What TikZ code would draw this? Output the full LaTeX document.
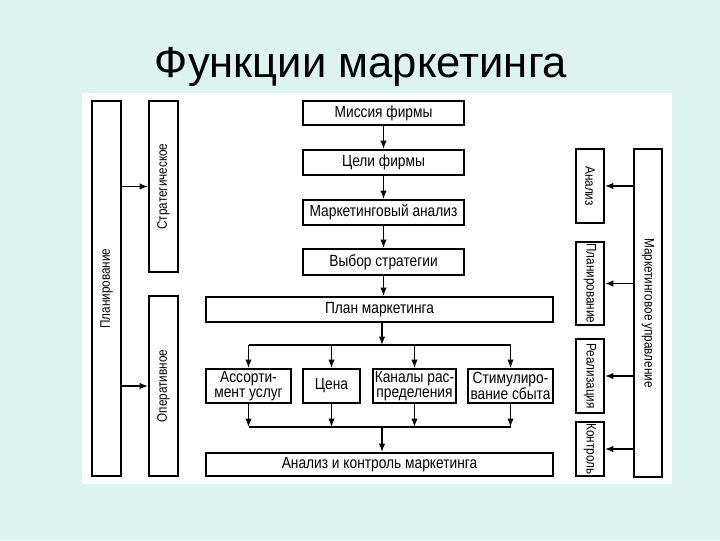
\documentclass[tikz,border=0pt]{standalone}
\usepackage{fontspec}
\usepackage{graphicx}
\setmainfont{Liberation Sans}
\newfontfamily\narrowfont[FakeStretch=0.85]{Liberation Sans}
\usetikzlibrary{arrows.meta}
\definecolor{slidebg}{HTML}{DDF3F0}

\begin{document}
\begin{tikzpicture}[x=0.025cm, y=-0.025cm,
    box/.style={draw, line width=1.3pt, fill=white, inner sep=1pt, align=center,
        font=\narrowfont\fontsize{11.5}{10.5}\selectfont},
    sidebox/.style={box, font=\narrowfont\fontsize{9.8}{10}\selectfont},
    arr/.style={-{Latex[length=6pt,width=4.5pt]}, line width=0.9pt},
    link/.style={line width=0.9pt}]
    % --- Hintergrund ---
    \fill[slidebg] (0,0) rectangle (720,540);
    \useasboundingbox (0,0) rectangle (720,540);
    \fill[white] (82,93) rectangle (672,484);
    \node[anchor=base, font=\fontsize{31}{31}\selectfont] (title) at (361,77) {Функции маркетинга};

    % --- Planung (links) ---
    \node[sidebox, minimum width=0.725cm, minimum height=9.375cm] (plan) at (106.5,288.5) {\rotatebox{90}{Планирование}};
    \node[sidebox, minimum width=0.725cm, minimum height=4.275cm] (strat) at (163.5,186.5) {\rotatebox{90}{Стратегическое}};
    \node[sidebox, minimum width=0.725cm, minimum height=4.5cm] (oper) at (163.5,386) {\rotatebox{90}{Оперативное}};
    \draw[arr] (plan.east |- strat) -- (strat.west);
    \draw[arr] (plan.east |- oper) -- (oper.west);

    % --- Hauptkette (Mitte) ---
    \node[box, minimum width=4.025cm, minimum height=0.6cm] (mission) at (383.5,113) {Миссия фирмы};
    \node[box, minimum width=4.025cm, minimum height=0.625cm] (goals) at (383.5,162.5) {Цели фирмы};
    \node[box, minimum width=4.025cm, minimum height=0.625cm] (analysis) at (383.5,212.5) {Маркетинговый анализ};
    \node[box, minimum width=4.025cm, minimum height=0.65cm] (choice) at (383.5,262) {Выбор стратегии};
    \node[box, minimum width=8.675cm, minimum height=0.625cm] (planm) at (379.5,309.5) {План маркетинга};
    \draw[arr] (mission) -- (goals);
    \draw[arr] (goals) -- (analysis);
    \draw[arr] (analysis) -- (choice);
    \draw[arr] (choice.south) -- (choice.south |- planm.north);

    % --- Marketing-Mix ---
    \node[box, minimum width=2.125cm, minimum height=0.85cm] (assort) at (248.5,386) {Ассорти-\\мент услуг};
    \node[box, minimum width=1.425cm, minimum height=0.85cm] (price) at (331.5,386) {Цена};
    \node[box, minimum width=2.075cm, minimum height=0.85cm] (channels) at (414.5,386) {Каналы рас-\\пределения};
    \node[box, minimum width=2.125cm, minimum height=0.85cm] (promo) at (510.5,386) {Стимулиро-\\вание сбыта};
    \node[box, minimum width=8.675cm, minimum height=0.575cm] (ctrl) at (379.5,464.5) {Анализ и контроль маркетинга};
    \coordinate (split) at (382,345);
    \coordinate (join) at (382,427);
    \draw[arr] (split |- planm.south) -- (split);
    \draw[link] (assort.north |- split) -- (promo.north |- split);
    \draw[link] (assort.south |- join) -- (promo.south |- join);
    \foreach \n in {assort,price,channels,promo} {
        \draw[arr] (\n.north |- split) -- (\n.north);
        \draw[arr] (\n.south) -- (\n.south |- join);
    }
    \draw[arr] (join) -- (join |- ctrl.north);

    % --- Marketingmanagement (rechts) ---
    \node[sidebox, minimum width=0.7cm, minimum height=8.2cm] (mgmt) at (648,313) {\rotatebox{-90}{Маркетинговое управление}};
    \node[sidebox, minimum width=0.7cm, minimum height=1.85cm] (ran) at (590,186) {\rotatebox{-90}{Анализ}};
    \node[sidebox, minimum width=0.7cm, minimum height=1.825cm] (rplan) at (590,283.5) {\rotatebox{-90}{Планирование}};
    \node[sidebox, minimum width=0.7cm, minimum height=1.85cm] (rreal) at (590,376) {\rotatebox{-90}{Реализация}};
    \node[sidebox, minimum width=0.7cm, minimum height=1.3cm] (rctrl) at (590,449) {\rotatebox{-90}{Контроль}};
    \foreach \n in {ran,rplan,rreal,rctrl}
        \draw[arr] (mgmt.west |- \n) -- (\n.east);
\end{tikzpicture}
\end{document}
